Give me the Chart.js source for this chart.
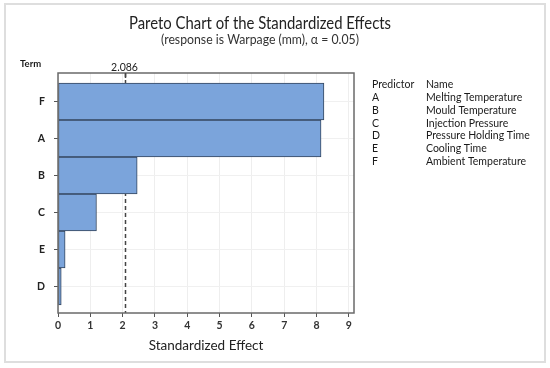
<!DOCTYPE html>
<html><head><meta charset="utf-8">
<script src="https://cdn.jsdelivr.net/npm/chart.js@4"></script>
<style>html,body{margin:0;padding:0;background:#fff}#wrap{width:550px;height:368px;position:relative}</style>
</head><body><div id="wrap"><canvas id="c" width="550" height="368"></canvas></div>
<script>
const terms = ['F','A','B','C','E','D'];
const effects = [8.23, 8.14, 2.45, 1.19, 0.22, 0.10];
const critical = 2.086;
const xTicks = [0,1,2,3,4,5,6,7,8,9];
const predictors = ['A','B','C','D','E','F'];
const names = ['Melting Temperature','Mould Temperature','Injection Pressure','Pressure Holding Time','Cooling Time','Ambient Temperature'];
const titleText = 'Pareto Chart of the Standardized Effects';
const subtitleText = '(response is Warpage (mm), \u03b1 = 0.05)';

const FONT = 'Lato, "Open Sans", sans-serif';

const deco = {
  id: 'deco',
  beforeDraw(chart) {
    const ctx = chart.ctx;
    ctx.save();
    ctx.fillStyle = '#fff';
    ctx.fillRect(0,0,chart.width,chart.height);
    ctx.strokeStyle = '#dedede';
    ctx.lineWidth = 2;
    ctx.strokeRect(5,4,540,358);
    ctx.restore();
  },
  beforeDatasetsDraw(chart) {
    const ctx = chart.ctx;
    const a = chart.chartArea;
    const px = Math.round(chart.scales.x.getPixelForValue(critical)) + 0.5;
    ctx.save();
    ctx.strokeStyle = '#444';
    ctx.lineWidth = 1.5;
    ctx.setLineDash([4,3]);
    ctx.beginPath(); ctx.moveTo(px, a.top); ctx.lineTo(px, a.bottom); ctx.stroke();
    ctx.restore();
  },
  afterDatasetsDraw(chart) {
    const ctx = chart.ctx;
    const a = chart.chartArea;
    const xs = chart.scales.x;
    ctx.save();
    ctx.strokeStyle = '#6a6a6a';
    ctx.lineWidth = 1.5;
    ctx.strokeRect(a.left, a.top, a.right - a.left, a.bottom - a.top);
    const px = Math.round(xs.getPixelForValue(critical)) + 0.5;
    ctx.strokeStyle = '#444';
    ctx.lineWidth = 1.5;
    ctx.beginPath(); ctx.moveTo(px, a.top); ctx.lineTo(px, a.top + 5); ctx.stroke();
    ctx.fillStyle = '#222';
    ctx.textBaseline = 'middle';
    ctx.textAlign = 'center';
    ctx.font = '10.5px ' + FONT;
    ctx.fillText(critical.toFixed(3), px - 1, 68);
    ctx.font = '17px ' + FONT;
    ctx.fillText(titleText, 260, 24, 262);
    ctx.font = '13px ' + FONT;
    ctx.fillStyle = '#333';
    ctx.fillText(subtitleText, 260, 40, 198);
    ctx.textAlign = 'left';
    ctx.fillStyle = '#1a1a1a';
    ctx.font = 'bold 9.5px ' + FONT;
    ctx.fillText('Term', 20, 64);
    ctx.font = '10.5px ' + FONT;
    ctx.fillText('Predictor', 372, 85);
    ctx.fillText('Name', 426, 85);
    for (let i = 0; i < predictors.length; i++) {
      const y = 98 + i * 12.7;
      ctx.fillText(predictors[i], 372, y);
      ctx.fillText(names[i], 426, y);
    }
    ctx.restore();
  }
};

new Chart(document.getElementById('c'), {
  type: 'bar',
  data: {
    datasets: [{
      data: terms.map((t, i) => ({x: effects[i], y: i})),
      backgroundColor: '#7ba4db',
      borderColor: '#34465e',
      borderWidth: 1,
      borderSkipped: false,
      barPercentage: 1,
      categoryPercentage: 1
    }]
  },
  options: {
    indexAxis: 'y',
    responsive: false,
    animation: false,
    devicePixelRatio: 1,
    layout: { padding: { top: 73, right: 196, left: 0, bottom: 0 } },
    plugins: { legend: { display: false }, tooltip: { enabled: false } },
    scales: {
      x: {
        type: 'linear', min: 0, max: 9.16, offset: false,
        afterBuildTicks(s) { s.ticks = xTicks.map(v => ({value: v})); },
        afterFit(s) { s.height = 55; },
        grid: { color: '#eeeeee', tickColor: '#555', tickLength: 4, offset: false },
        border: { display: false },
        ticks: { padding: 2, color: '#333', font: { family: FONT, size: 10.5, weight: 'bold' } },
        title: { display: true, text: 'Standardized Effect', color: '#222', font: { family: FONT, size: 13.5 }, padding: { top: 0, bottom: 14 } }
      },
      y: {
        type: 'linear', reverse: true, min: -0.77, max: 5.716, offset: false,
        afterBuildTicks(s) { s.ticks = terms.map((t, i) => ({value: i})); },
        afterFit(s) { s.width = 58; },
        grid: { color: '#f0f0f0', tickColor: '#555', tickLength: 4, offset: false },
        border: { display: false },
        ticks: { padding: 9, color: '#222', font: { family: FONT, size: 10.5, weight: 'bold' },
          callback: (v) => terms[v] !== undefined ? terms[v] : '' }
      }
    }
  },
  plugins: [deco]
});
</script></body></html>
